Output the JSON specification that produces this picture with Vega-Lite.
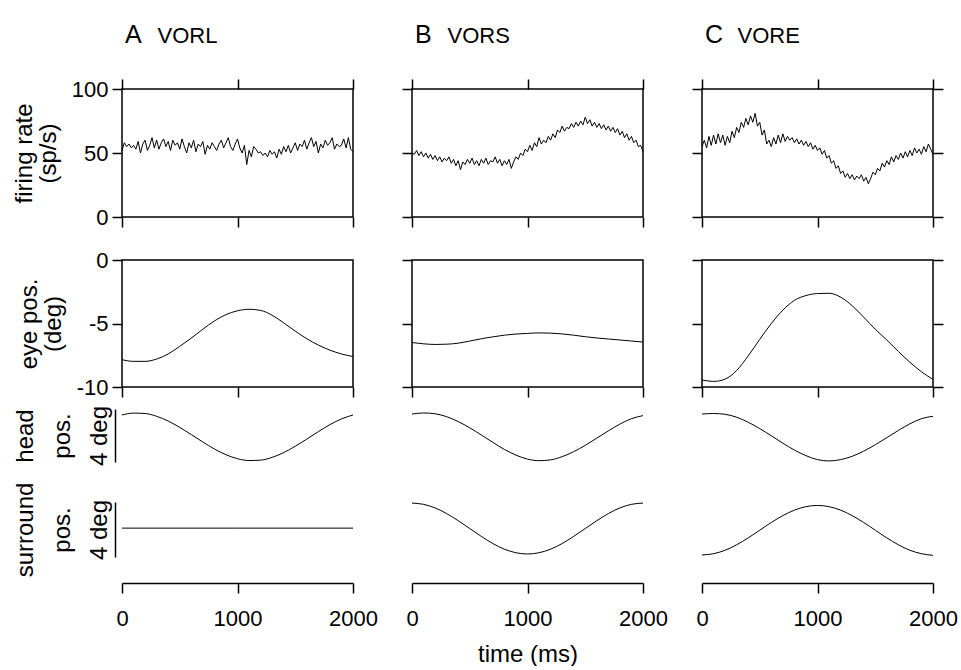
{
  "$schema": "https://vega.github.io/schema/vega-lite/v6.json",
  "background": "white",
  "padding": {"left": 11, "top": 22, "right": 0, "bottom": 0},
  "config": {
    "view": {"stroke": null},
    "font": "Liberation Sans",
    "axis": {"grid": false, "domainColor": "black", "tickColor": "black", "labelColor": "black", "titleColor": "black", "labelFont": "Liberation Sans", "titleFont": "Liberation Sans", "titleFontWeight": "normal", "labelFontSize": 22, "titleFontSize": 24},
    "title": {"font": "Liberation Sans", "color": "black"}
  },
  "datasets": {
    "frA": [{"t":0,"v":52},{"t":20,"v":58},{"t":40,"v":55},{"t":60,"v":57},{"t":80,"v":54},{"t":100,"v":56},{"t":120,"v":53},{"t":140,"v":59},{"t":160,"v":50},{"t":180,"v":57},{"t":200,"v":60},{"t":220,"v":52},{"t":240,"v":56},{"t":260,"v":62},{"t":280,"v":54},{"t":300,"v":60},{"t":320,"v":53},{"t":340,"v":58},{"t":360,"v":61},{"t":380,"v":55},{"t":400,"v":59},{"t":420,"v":52},{"t":440,"v":60},{"t":460,"v":56},{"t":480,"v":58},{"t":500,"v":53},{"t":520,"v":61},{"t":540,"v":55},{"t":560,"v":50},{"t":580,"v":58},{"t":600,"v":54},{"t":620,"v":60},{"t":640,"v":51},{"t":660,"v":57},{"t":680,"v":55},{"t":700,"v":59},{"t":720,"v":49},{"t":740,"v":56},{"t":760,"v":53},{"t":780,"v":58},{"t":800,"v":55},{"t":820,"v":52},{"t":840,"v":57},{"t":860,"v":60},{"t":880,"v":54},{"t":900,"v":58},{"t":920,"v":62},{"t":940,"v":55},{"t":960,"v":52},{"t":980,"v":57},{"t":1000,"v":61},{"t":1020,"v":54},{"t":1040,"v":50},{"t":1060,"v":56},{"t":1080,"v":41},{"t":1100,"v":52},{"t":1120,"v":47},{"t":1140,"v":55},{"t":1160,"v":53},{"t":1180,"v":50},{"t":1200,"v":51},{"t":1220,"v":48},{"t":1240,"v":50},{"t":1260,"v":47},{"t":1280,"v":52},{"t":1300,"v":49},{"t":1320,"v":51},{"t":1340,"v":46},{"t":1360,"v":53},{"t":1380,"v":49},{"t":1400,"v":55},{"t":1420,"v":51},{"t":1440,"v":56},{"t":1460,"v":50},{"t":1480,"v":54},{"t":1500,"v":58},{"t":1520,"v":52},{"t":1540,"v":57},{"t":1560,"v":55},{"t":1580,"v":60},{"t":1600,"v":53},{"t":1620,"v":58},{"t":1640,"v":62},{"t":1660,"v":55},{"t":1680,"v":59},{"t":1700,"v":50},{"t":1720,"v":57},{"t":1740,"v":54},{"t":1760,"v":60},{"t":1780,"v":56},{"t":1800,"v":58},{"t":1820,"v":62},{"t":1840,"v":53},{"t":1860,"v":57},{"t":1880,"v":55},{"t":1900,"v":56},{"t":1920,"v":61},{"t":1940,"v":54},{"t":1960,"v":62},{"t":1980,"v":53},{"t":2000,"v":51}],
    "frB": [{"t":0,"v":50},{"t":20,"v":49},{"t":40,"v":52},{"t":60,"v":48},{"t":80,"v":51},{"t":100,"v":47},{"t":120,"v":50},{"t":140,"v":46},{"t":160,"v":49},{"t":180,"v":45},{"t":200,"v":48},{"t":220,"v":44},{"t":240,"v":47},{"t":260,"v":43},{"t":280,"v":46},{"t":300,"v":44},{"t":320,"v":47},{"t":340,"v":42},{"t":360,"v":45},{"t":380,"v":40},{"t":400,"v":44},{"t":420,"v":37},{"t":440,"v":43},{"t":460,"v":41},{"t":480,"v":45},{"t":500,"v":42},{"t":520,"v":46},{"t":540,"v":41},{"t":560,"v":44},{"t":580,"v":40},{"t":600,"v":45},{"t":620,"v":42},{"t":640,"v":46},{"t":660,"v":41},{"t":680,"v":44},{"t":700,"v":43},{"t":720,"v":47},{"t":740,"v":42},{"t":760,"v":45},{"t":780,"v":40},{"t":800,"v":44},{"t":820,"v":41},{"t":840,"v":45},{"t":860,"v":38},{"t":880,"v":43},{"t":900,"v":47},{"t":920,"v":45},{"t":940,"v":50},{"t":960,"v":48},{"t":980,"v":53},{"t":1000,"v":51},{"t":1020,"v":56},{"t":1040,"v":52},{"t":1060,"v":58},{"t":1080,"v":55},{"t":1100,"v":62},{"t":1120,"v":57},{"t":1140,"v":60},{"t":1160,"v":58},{"t":1180,"v":63},{"t":1200,"v":60},{"t":1220,"v":65},{"t":1240,"v":62},{"t":1260,"v":68},{"t":1280,"v":66},{"t":1300,"v":71},{"t":1320,"v":67},{"t":1340,"v":70},{"t":1360,"v":69},{"t":1380,"v":73},{"t":1400,"v":70},{"t":1420,"v":74},{"t":1440,"v":71},{"t":1460,"v":75},{"t":1480,"v":72},{"t":1500,"v":78},{"t":1520,"v":73},{"t":1540,"v":76},{"t":1560,"v":71},{"t":1580,"v":74},{"t":1600,"v":70},{"t":1620,"v":73},{"t":1640,"v":69},{"t":1660,"v":72},{"t":1680,"v":68},{"t":1700,"v":71},{"t":1720,"v":67},{"t":1740,"v":70},{"t":1760,"v":66},{"t":1780,"v":69},{"t":1800,"v":64},{"t":1820,"v":67},{"t":1840,"v":62},{"t":1860,"v":65},{"t":1880,"v":60},{"t":1900,"v":63},{"t":1920,"v":58},{"t":1940,"v":60},{"t":1960,"v":55},{"t":1980,"v":56},{"t":2000,"v":51}],
    "frC": [{"t":0,"v":55},{"t":20,"v":60},{"t":40,"v":54},{"t":60,"v":63},{"t":80,"v":56},{"t":100,"v":64},{"t":120,"v":57},{"t":140,"v":65},{"t":160,"v":58},{"t":180,"v":64},{"t":200,"v":56},{"t":220,"v":63},{"t":240,"v":58},{"t":260,"v":67},{"t":280,"v":62},{"t":300,"v":70},{"t":320,"v":66},{"t":340,"v":74},{"t":360,"v":70},{"t":380,"v":77},{"t":400,"v":72},{"t":420,"v":79},{"t":440,"v":74},{"t":460,"v":81},{"t":480,"v":71},{"t":500,"v":74},{"t":520,"v":64},{"t":540,"v":68},{"t":560,"v":57},{"t":580,"v":60},{"t":600,"v":55},{"t":620,"v":62},{"t":640,"v":57},{"t":660,"v":64},{"t":680,"v":58},{"t":700,"v":65},{"t":720,"v":59},{"t":740,"v":63},{"t":760,"v":60},{"t":780,"v":62},{"t":800,"v":58},{"t":820,"v":61},{"t":840,"v":57},{"t":860,"v":60},{"t":880,"v":56},{"t":900,"v":59},{"t":920,"v":55},{"t":940,"v":58},{"t":960,"v":53},{"t":980,"v":56},{"t":1000,"v":52},{"t":1020,"v":54},{"t":1040,"v":49},{"t":1060,"v":52},{"t":1080,"v":46},{"t":1100,"v":48},{"t":1120,"v":42},{"t":1140,"v":44},{"t":1160,"v":38},{"t":1180,"v":40},{"t":1200,"v":34},{"t":1220,"v":36},{"t":1240,"v":31},{"t":1260,"v":34},{"t":1280,"v":30},{"t":1300,"v":33},{"t":1320,"v":29},{"t":1340,"v":32},{"t":1360,"v":30},{"t":1380,"v":33},{"t":1400,"v":28},{"t":1420,"v":31},{"t":1440,"v":26},{"t":1460,"v":30},{"t":1480,"v":35},{"t":1500,"v":33},{"t":1520,"v":38},{"t":1540,"v":36},{"t":1560,"v":42},{"t":1580,"v":39},{"t":1600,"v":44},{"t":1620,"v":41},{"t":1640,"v":47},{"t":1660,"v":43},{"t":1680,"v":48},{"t":1700,"v":45},{"t":1720,"v":50},{"t":1740,"v":46},{"t":1760,"v":51},{"t":1780,"v":47},{"t":1800,"v":52},{"t":1820,"v":48},{"t":1840,"v":54},{"t":1860,"v":50},{"t":1880,"v":53},{"t":1900,"v":49},{"t":1920,"v":55},{"t":1940,"v":51},{"t":1960,"v":57},{"t":1980,"v":53},{"t":2000,"v":49}],
    "eyA": [{"t":0,"v":-7.85},{"t":100,"v":-7.98},{"t":200,"v":-7.98},{"t":300,"v":-7.8},{"t":400,"v":-7.4},{"t":500,"v":-6.8},{"t":600,"v":-6.15},{"t":700,"v":-5.45},{"t":800,"v":-4.8},{"t":900,"v":-4.3},{"t":1000,"v":-4.0},{"t":1100,"v":-3.88},{"t":1200,"v":-3.97},{"t":1300,"v":-4.35},{"t":1400,"v":-4.95},{"t":1500,"v":-5.6},{"t":1600,"v":-6.2},{"t":1700,"v":-6.7},{"t":1800,"v":-7.1},{"t":1900,"v":-7.4},{"t":2000,"v":-7.6}],
    "eyB": [{"t":0,"v":-6.5},{"t":100,"v":-6.6},{"t":200,"v":-6.65},{"t":300,"v":-6.63},{"t":400,"v":-6.55},{"t":500,"v":-6.38},{"t":600,"v":-6.2},{"t":700,"v":-6.05},{"t":800,"v":-5.92},{"t":900,"v":-5.83},{"t":1000,"v":-5.78},{"t":1100,"v":-5.74},{"t":1200,"v":-5.76},{"t":1300,"v":-5.82},{"t":1400,"v":-5.92},{"t":1500,"v":-6.04},{"t":1600,"v":-6.14},{"t":1700,"v":-6.22},{"t":1800,"v":-6.3},{"t":1900,"v":-6.38},{"t":2000,"v":-6.46}],
    "eyC": [{"t":0,"v":-9.45},{"t":100,"v":-9.56},{"t":200,"v":-9.38},{"t":300,"v":-8.7},{"t":400,"v":-7.55},{"t":500,"v":-6.25},{"t":600,"v":-5.0},{"t":700,"v":-3.95},{"t":800,"v":-3.18},{"t":900,"v":-2.8},{"t":1000,"v":-2.64},{"t":1100,"v":-2.62},{"t":1200,"v":-2.92},{"t":1300,"v":-3.6},{"t":1400,"v":-4.5},{"t":1500,"v":-5.45},{"t":1600,"v":-6.3},{"t":1700,"v":-7.2},{"t":1800,"v":-8.05},{"t":1900,"v":-8.8},{"t":2000,"v":-9.4}],
    "hdA": [{"t":0,"v":1.55},{"t":100,"v":1.69},{"t":200,"v":1.66},{"t":300,"v":1.45},{"t":400,"v":1.09},{"t":500,"v":0.61},{"t":600,"v":0.07},{"t":700,"v":-0.49},{"t":800,"v":-1.02},{"t":900,"v":-1.45},{"t":1000,"v":-1.75},{"t":1100,"v":-1.89},{"t":1200,"v":-1.86},{"t":1300,"v":-1.65},{"t":1400,"v":-1.29},{"t":1500,"v":-0.81},{"t":1600,"v":-0.27},{"t":1700,"v":0.29},{"t":1800,"v":0.82},{"t":1900,"v":1.25},{"t":2000,"v":1.55}],
    "hdB": [{"t":0,"v":1.62},{"t":100,"v":1.70},{"t":200,"v":1.64},{"t":300,"v":1.42},{"t":400,"v":1.05},{"t":500,"v":0.58},{"t":600,"v":0.04},{"t":700,"v":-0.52},{"t":800,"v":-1.05},{"t":900,"v":-1.48},{"t":1000,"v":-1.78},{"t":1100,"v":-1.90},{"t":1200,"v":-1.84},{"t":1300,"v":-1.60},{"t":1400,"v":-1.22},{"t":1500,"v":-0.74},{"t":1600,"v":-0.20},{"t":1700,"v":0.35},{"t":1800,"v":0.86},{"t":1900,"v":1.27},{"t":2000,"v":1.50}],
    "hdC": [{"t":0,"v":1.62},{"t":100,"v":1.66},{"t":200,"v":1.60},{"t":300,"v":1.38},{"t":400,"v":1.00},{"t":500,"v":0.52},{"t":600,"v":-0.02},{"t":700,"v":-0.58},{"t":800,"v":-1.10},{"t":900,"v":-1.52},{"t":1000,"v":-1.82},{"t":1100,"v":-1.92},{"t":1200,"v":-1.82},{"t":1300,"v":-1.57},{"t":1400,"v":-1.18},{"t":1500,"v":-0.70},{"t":1600,"v":-0.16},{"t":1700,"v":0.38},{"t":1800,"v":0.88},{"t":1900,"v":1.27},{"t":2000,"v":1.45}],
    "suA": [{"t":0,"v":0.1},{"t":500,"v":0.1},{"t":1000,"v":0.1},{"t":1500,"v":0.1},{"t":2000,"v":0.1}],
    "suB": [{"t":0,"v":1.92},{"t":100,"v":1.83},{"t":200,"v":1.57},{"t":300,"v":1.16},{"t":400,"v":0.64},{"t":500,"v":0.07},{"t":600,"v":-0.50},{"t":700,"v":-1.02},{"t":800,"v":-1.43},{"t":900,"v":-1.69},{"t":1000,"v":-1.78},{"t":1100,"v":-1.69},{"t":1200,"v":-1.43},{"t":1300,"v":-1.02},{"t":1400,"v":-0.50},{"t":1500,"v":0.07},{"t":1600,"v":0.64},{"t":1700,"v":1.16},{"t":1800,"v":1.57},{"t":1900,"v":1.83},{"t":2000,"v":1.92}],
    "suC": [{"t":0,"v":-1.85},{"t":100,"v":-1.76},{"t":200,"v":-1.51},{"t":300,"v":-1.11},{"t":400,"v":-0.61},{"t":500,"v":-0.05},{"t":600,"v":0.51},{"t":700,"v":1.01},{"t":800,"v":1.41},{"t":900,"v":1.66},{"t":1000,"v":1.75},{"t":1100,"v":1.66},{"t":1200,"v":1.41},{"t":1300,"v":1.01},{"t":1400,"v":0.51},{"t":1500,"v":-0.05},{"t":1600,"v":-0.61},{"t":1700,"v":-1.11},{"t":1800,"v":-1.51},{"t":1900,"v":-1.76},{"t":2000,"v":-1.88}]
  },
  "spacing": 19,
  "vconcat": [
    {
      "hconcat": [
        {
          "width": 231, "height": 128,
          "view": {"stroke": "black", "strokeWidth": 1.5},
          "data": {"name": "frA"},
          "title": {"text": "A", "anchor": "start", "frame": "group", "fontSize": 25, "fontWeight": "normal", "offset": -24, "dx": 3},
          "layer": [
            {"mark": {"type": "line", "color": "black", "strokeWidth": 1},
             "encoding": {
               "x": {"field": "t", "type": "quantitative", "scale": {"domain": [0, 2000], "nice": false}, "axis": {"orient": "bottom", "values": [0, 1000, 2000], "domain": false, "labels": false, "tickSize": 10, "tickWidth": 1.5, "title": null}},
               "y": {"field": "v", "type": "quantitative", "scale": {"domain": [0, 100], "nice": false}, "axis": {"orient": "left", "values": [0, 50, 100], "domain": false, "tickSize": 10, "tickWidth": 1.5, "labelPadding": 4, "title": ["firing rate", "(sp/s)"], "titlePadding": 11, "titleLineHeight": 24}}
             }},
            {"mark": {"type": "line", "opacity": 0},
             "encoding": {
               "x": {"field": "t", "type": "quantitative", "scale": {"domain": [0, 2000], "nice": false}, "axis": {"orient": "top", "values": [0, 1000, 2000], "domain": false, "labels": false, "tickSize": 10, "tickWidth": 1.5, "title": "VORL", "titleFontSize": 22, "titleAnchor": "start", "titleAlign": "left", "titleBaseline": "alphabetic", "titleX": 35, "titleY": -47}},
               "y": {"field": "v", "type": "quantitative", "scale": {"domain": [0, 100], "nice": false}, "axis": null}
             }}
          ],
          "resolve": {"axis": {"x": "independent", "y": "independent"}}
        },
        {
          "width": 231, "height": 128,
          "view": {"stroke": "black", "strokeWidth": 1.5},
          "data": {"name": "frB"},
          "title": {"text": "B", "anchor": "start", "frame": "group", "fontSize": 25, "fontWeight": "normal", "offset": -24, "dx": 3},
          "layer": [
            {"mark": {"type": "line", "color": "black", "strokeWidth": 1},
             "encoding": {
               "x": {"field": "t", "type": "quantitative", "scale": {"domain": [0, 2000], "nice": false}, "axis": {"orient": "bottom", "values": [0, 1000, 2000], "domain": false, "labels": false, "tickSize": 10, "tickWidth": 1.5, "title": null}},
               "y": {"field": "v", "type": "quantitative", "scale": {"domain": [0, 100], "nice": false}, "axis": {"orient": "left", "values": [0, 50, 100], "domain": false, "labels": false, "tickSize": 10, "tickWidth": 1.5, "title": null}}
             }},
            {"mark": {"type": "line", "opacity": 0},
             "encoding": {
               "x": {"field": "t", "type": "quantitative", "scale": {"domain": [0, 2000], "nice": false}, "axis": {"orient": "top", "values": [0, 1000, 2000], "domain": false, "labels": false, "tickSize": 10, "tickWidth": 1.5, "title": "VORS", "titleFontSize": 22, "titleAnchor": "start", "titleAlign": "left", "titleBaseline": "alphabetic", "titleX": 35, "titleY": -47}},
               "y": {"field": "v", "type": "quantitative", "scale": {"domain": [0, 100], "nice": false}, "axis": null}
             }}
          ],
          "resolve": {"axis": {"x": "independent", "y": "independent"}}
        },
        {
          "width": 231, "height": 128,
          "view": {"stroke": "black", "strokeWidth": 1.5},
          "data": {"name": "frC"},
          "title": {"text": "C", "anchor": "start", "frame": "group", "fontSize": 25, "fontWeight": "normal", "offset": -24, "dx": 3},
          "layer": [
            {"mark": {"type": "line", "color": "black", "strokeWidth": 1},
             "encoding": {
               "x": {"field": "t", "type": "quantitative", "scale": {"domain": [0, 2000], "nice": false}, "axis": {"orient": "bottom", "values": [0, 1000, 2000], "domain": false, "labels": false, "tickSize": 10, "tickWidth": 1.5, "title": null}},
               "y": {"field": "v", "type": "quantitative", "scale": {"domain": [0, 100], "nice": false}, "axis": {"orient": "left", "values": [0, 50, 100], "domain": false, "labels": false, "tickSize": 10, "tickWidth": 1.5, "title": null}}
             }},
            {"mark": {"type": "line", "opacity": 0},
             "encoding": {
               "x": {"field": "t", "type": "quantitative", "scale": {"domain": [0, 2000], "nice": false}, "axis": {"orient": "top", "values": [0, 1000, 2000], "domain": false, "labels": false, "tickSize": 10, "tickWidth": 1.5, "title": "VORE", "titleFontSize": 22, "titleAnchor": "start", "titleAlign": "left", "titleBaseline": "alphabetic", "titleX": 35, "titleY": -47}},
               "y": {"field": "v", "type": "quantitative", "scale": {"domain": [0, 100], "nice": false}, "axis": {"orient": "right", "values": [0, 50, 100], "domain": false, "labels": false, "tickSize": 10, "tickWidth": 1.5, "title": null}}
             }}
          ],
          "resolve": {"axis": {"x": "independent", "y": "independent"}}
        }
      ],
      "spacing": 59,
      "bounds": "flush"
    },
    {
      "spacing": 6,
      "vconcat": [
        {
          "hconcat": [
            {
              "width": 231, "height": 127,
              "view": {"stroke": "black", "strokeWidth": 1.5},
              "data": {"name": "eyA"},
              "mark": {"type": "line", "color": "black", "strokeWidth": 1, "interpolate": "monotone"},
              "encoding": {
                "x": {"field": "t", "type": "quantitative", "scale": {"domain": [0, 2000], "nice": false}, "axis": {"orient": "bottom", "values": [0, 1000, 2000], "domain": false, "labels": false, "tickSize": 10, "tickWidth": 1.5, "title": null}},
                "y": {"field": "v", "type": "quantitative", "scale": {"domain": [-10, 0], "nice": false}, "axis": {"orient": "left", "values": [-10, -5, 0], "labelExpr": "'' + datum.value", "domain": false, "tickSize": 10, "tickWidth": 1.5, "labelPadding": 4, "title": ["eye pos.", "(deg)"], "titlePadding": 11, "titleLineHeight": 24}}
              }
            },
            {
              "width": 231, "height": 127,
              "view": {"stroke": "black", "strokeWidth": 1.5},
              "data": {"name": "eyB"},
              "mark": {"type": "line", "color": "black", "strokeWidth": 1, "interpolate": "monotone"},
              "encoding": {
                "x": {"field": "t", "type": "quantitative", "scale": {"domain": [0, 2000], "nice": false}, "axis": {"orient": "bottom", "values": [0, 1000, 2000], "domain": false, "labels": false, "tickSize": 10, "tickWidth": 1.5, "title": null}},
                "y": {"field": "v", "type": "quantitative", "scale": {"domain": [-10, 0], "nice": false}, "axis": {"orient": "left", "values": [-10, -5, 0], "domain": false, "labels": false, "tickSize": 10, "tickWidth": 1.5, "title": null}}
              }
            },
            {
              "width": 231, "height": 127,
              "view": {"stroke": "black", "strokeWidth": 1.5},
              "data": {"name": "eyC"},
              "layer": [
                {"mark": {"type": "line", "color": "black", "strokeWidth": 1, "interpolate": "monotone"},
                 "encoding": {
                   "x": {"field": "t", "type": "quantitative", "scale": {"domain": [0, 2000], "nice": false}, "axis": {"orient": "bottom", "values": [0, 1000, 2000], "domain": false, "labels": false, "tickSize": 10, "tickWidth": 1.5, "title": null}},
                   "y": {"field": "v", "type": "quantitative", "scale": {"domain": [-10, 0], "nice": false}, "axis": {"orient": "left", "values": [-10, -5, 0], "domain": false, "labels": false, "tickSize": 10, "tickWidth": 1.5, "title": null}}
                 }},
                {"mark": {"type": "line", "opacity": 0},
                 "encoding": {
                   "x": {"field": "t", "type": "quantitative", "scale": {"domain": [0, 2000], "nice": false}, "axis": null},
                   "y": {"field": "v", "type": "quantitative", "scale": {"domain": [-10, 0], "nice": false}, "axis": {"orient": "right", "values": [-10, -5, 0], "domain": false, "labels": false, "tickSize": 10, "tickWidth": 1.5, "title": null}}
                 }}
              ],
              "resolve": {"axis": {"x": "independent", "y": "independent"}}
            }
          ],
          "spacing": 59,
          "bounds": "flush"
        },
        {
          "spacing": 16,
          "vconcat": [
            {
              "hconcat": [
                {
                  "width": 231, "height": 53,
                  "data": {"name": "hdA"},
                  "mark": {"type": "line", "color": "black", "strokeWidth": 1, "interpolate": "monotone"},
                  "encoding": {
                    "x": {"field": "t", "type": "quantitative", "scale": {"domain": [0, 2000], "nice": false}, "axis": null},
                    "y": {"field": "v", "type": "quantitative", "scale": {"domain": [-2, 2], "nice": false}, "axis": {"orient": "left", "domain": true, "domainWidth": 1.5, "ticks": false, "tickSize": 0, "labels": false, "offset": 7, "title": ["head", "pos.", "4 deg"], "titlePadding": 4, "titleLineHeight": 37}}
                  }
                },
                {
                  "width": 231, "height": 53,
                  "data": {"name": "hdB"},
                  "mark": {"type": "line", "color": "black", "strokeWidth": 1, "interpolate": "monotone"},
                  "encoding": {
                    "x": {"field": "t", "type": "quantitative", "scale": {"domain": [0, 2000], "nice": false}, "axis": null},
                    "y": {"field": "v", "type": "quantitative", "scale": {"domain": [-2, 2], "nice": false}, "axis": null}
                  }
                },
                {
                  "width": 231, "height": 53,
                  "data": {"name": "hdC"},
                  "mark": {"type": "line", "color": "black", "strokeWidth": 1, "interpolate": "monotone"},
                  "encoding": {
                    "x": {"field": "t", "type": "quantitative", "scale": {"domain": [0, 2000], "nice": false}, "axis": null},
                    "y": {"field": "v", "type": "quantitative", "scale": {"domain": [-2, 2], "nice": false}, "axis": null}
                  }
                }
              ],
              "spacing": 59,
              "bounds": "flush"
            },
            {
              "hconcat": [
                {
                  "width": 231, "height": 55,
                  "data": {"name": "suA"},
                  "mark": {"type": "line", "color": "black", "strokeWidth": 1},
                  "encoding": {
                    "x": {"field": "t", "type": "quantitative", "scale": {"domain": [0, 2000], "nice": false}, "axis": {"orient": "bottom", "offset": 26, "values": [0, 1000, 2000], "format": "d", "domainWidth": 1.5, "tickSize": 10, "tickWidth": 1.5, "labelFlush": false, "labelPadding": 15, "title": null}},
                    "y": {"field": "v", "type": "quantitative", "scale": {"domain": [-2, 2], "nice": false}, "axis": {"orient": "left", "domain": true, "domainWidth": 1.5, "ticks": false, "tickSize": 0, "labels": false, "offset": 7, "title": ["surround", "pos.", "4 deg"], "titlePadding": 4, "titleLineHeight": 37}}
                  }
                },
                {
                  "width": 231, "height": 55,
                  "data": {"name": "suB"},
                  "mark": {"type": "line", "color": "black", "strokeWidth": 1, "interpolate": "monotone"},
                  "encoding": {
                    "x": {"field": "t", "type": "quantitative", "scale": {"domain": [0, 2000], "nice": false}, "axis": {"orient": "bottom", "offset": 26, "values": [0, 1000, 2000], "format": "d", "domainWidth": 1.5, "tickSize": 10, "tickWidth": 1.5, "labelFlush": false, "labelPadding": 15, "title": "time (ms)", "titlePadding": 13}},
                    "y": {"field": "v", "type": "quantitative", "scale": {"domain": [-2, 2], "nice": false}, "axis": null}
                  }
                },
                {
                  "width": 231, "height": 55,
                  "data": {"name": "suC"},
                  "mark": {"type": "line", "color": "black", "strokeWidth": 1, "interpolate": "monotone"},
                  "encoding": {
                    "x": {"field": "t", "type": "quantitative", "scale": {"domain": [0, 2000], "nice": false}, "axis": {"orient": "bottom", "offset": 26, "values": [0, 1000, 2000], "format": "d", "domainWidth": 1.5, "tickSize": 10, "tickWidth": 1.5, "labelFlush": false, "labelPadding": 15, "title": null}},
                    "y": {"field": "v", "type": "quantitative", "scale": {"domain": [-2, 2], "nice": false}, "axis": null}
                  }
                }
              ],
              "spacing": 59,
              "bounds": "flush"
            }
          ]
        }
      ]
    }
  ]
}
